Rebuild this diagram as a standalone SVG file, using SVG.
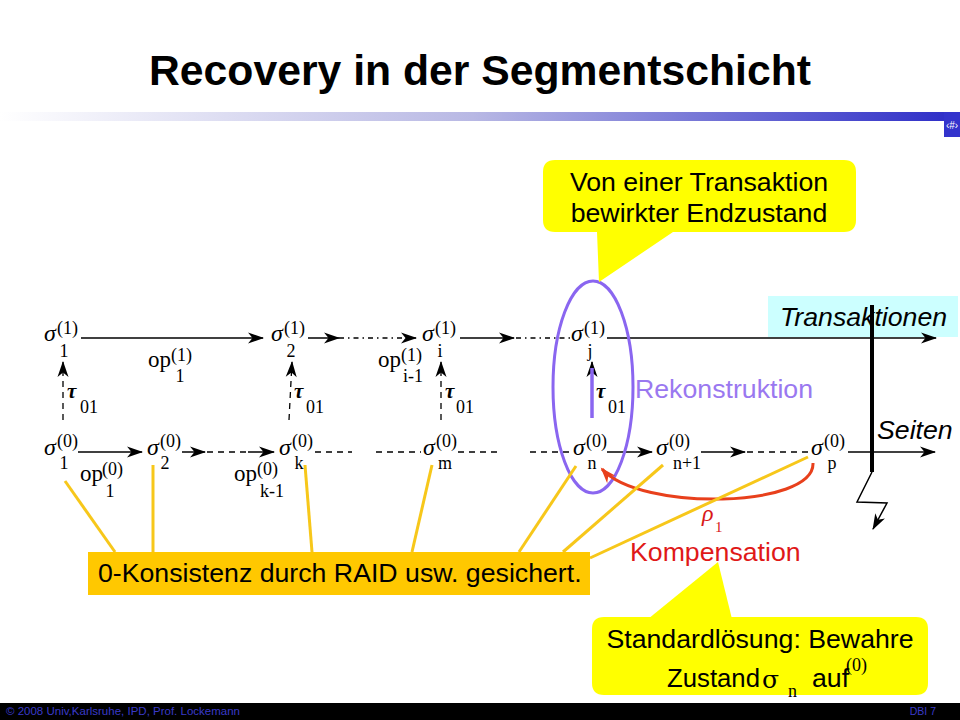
<svg xmlns="http://www.w3.org/2000/svg" width="960" height="720" viewBox="0 0 960 720">
<defs>
<linearGradient id="bar" x1="0" y1="0" x2="1" y2="0">
<stop offset="0" stop-color="#ffffff"/>
<stop offset="0.5" stop-color="#b8b8e4"/>
<stop offset="1" stop-color="#3030c8"/>
</linearGradient>
<marker id="ah" markerUnits="userSpaceOnUse" markerWidth="17" markerHeight="12" refX="15" refY="5.5" orient="auto" overflow="visible">
<path d="M0,0 L16,5.5 L0,11 L4.5,5.5 z" fill="#000"/>
</marker>
<marker id="ahr" markerUnits="userSpaceOnUse" markerWidth="17" markerHeight="12" refX="14" refY="5.5" orient="auto" overflow="visible">
<path d="M0,0 L16,5.5 L0,11 L4.5,5.5 z" fill="#e8401c"/>
</marker>
<style>
.sig{font-family:"Liberation Serif",serif;font-style:italic;font-size:24px;fill:#000}
.sm{font-family:"Liberation Serif",serif;font-size:18px;fill:#000}
.op{font-family:"Liberation Serif",serif;font-size:23px;fill:#000}
.tau{font-family:"Liberation Serif",serif;font-style:italic;font-weight:bold;font-size:21px;fill:#000}
.sans{font-family:"Liberation Sans",Arial,sans-serif;font-size:26.7px;fill:#000}
.ln{stroke:#000;stroke-width:1.5;fill:none}
.dsh{stroke:#000;stroke-width:1.3;fill:none;stroke-dasharray:6,5}
.dd{stroke:#000;stroke-width:1.3;fill:none;stroke-dasharray:5,4,1.5,4}
.yl{stroke:#f7c71a;stroke-width:3;fill:none}
.mid{text-anchor:middle}
</style>
</defs>
<rect width="960" height="720" fill="#fff"/>

<g id="header">
<text x="480" y="85" text-anchor="middle" font-family="Liberation Sans, Arial, sans-serif" font-weight="bold" font-size="42.7">Recovery in der Segmentschicht</text>
<rect x="0" y="112" width="945" height="9" fill="url(#bar)"/>
<rect x="944" y="112" width="16" height="25" fill="#3333cc"/>
<text x="952" y="129" text-anchor="middle" font-family="Liberation Sans, Arial, sans-serif" font-size="10" fill="#fff">‹#›</text>
</g>

<g id="transaktionen-label">
<rect x="768" y="296" width="190" height="41" fill="#ccffff"/>
<text class="sans" x="780" y="326" font-style="italic">Transaktionen</text>
</g>
<g id="seiten-label">
<text class="sans" x="877" y="439" font-style="italic">Seiten</text>
</g>

<g id="connectors">
<!-- top row -->
<path class="ln" d="M81 338 H263" marker-end="url(#ah)"/>
<path class="ln" d="M308 338 H339" marker-end="url(#ah)"/>
<path class="dd" d="M339 338 H416" marker-end="url(#ah)"/>
<path class="ln" d="M460 338 H514" marker-end="url(#ah)"/>
<path class="dd" d="M516 338 H570"/>
<path class="ln" d="M607 338 H936" marker-end="url(#ah)"/>
<!-- bottom row -->
<path class="ln" d="M78 452 H142" marker-end="url(#ah)"/>
<path class="ln" d="M182 452 H205" marker-end="url(#ah)"/>
<path class="dsh" d="M207 452 H248"/>
<path class="ln" d="M248 452 H274" marker-end="url(#ah)"/>
<path class="dsh" d="M315 452 H352"/>
<path class="dsh" d="M376 452 H421"/>
<path class="dsh" d="M458 452 H502"/>
<path class="dsh" d="M530 452 H573"/>
<path class="ln" d="M607 452 H652" marker-end="url(#ah)"/>
<path class="ln" d="M701 452 H745" marker-end="url(#ah)"/>
<path class="dsh" d="M747 452 H808"/>
<path class="ln" d="M848 452 H935" marker-end="url(#ah)"/>
<!-- tau arrows -->
<path class="dsh" d="M63 420 V362" marker-end="url(#ah)"/>
<path class="dsh" d="M289 420 L292 362" marker-end="url(#ah)"/>
<path class="dsh" d="M441 420 V362" marker-end="url(#ah)"/>
<path class="ln" d="M592 418 V362" marker-end="url(#ah)"/>
<path d="M592 418 V368" stroke="#8a66f0" stroke-width="3.5" fill="none"/>
<!-- axis / crash -->
<path d="M872 305 V472" stroke="#000" stroke-width="4" fill="none"/>
<path class="ln" d="M872 472 L857 502 L887 503 L873 529" marker-end="url(#ah)"/>
<!-- reconstruction ellipse -->
<ellipse cx="593" cy="387" rx="40" ry="106" fill="none" stroke="#8a66f0" stroke-width="3"/>
<!-- compensation arc -->
<path d="M813 463 C815 508, 640 512, 602 469" fill="none" stroke="#e8401c" stroke-width="3" marker-end="url(#ahr)"/>
<!-- yellow lines to box -->
<path class="yl" d="M65 481 L115 552"/>
<path class="yl" d="M153 465 V552"/>
<path class="yl" d="M305 465 L312 552"/>
<path class="yl" d="M432 465 L412 552"/>
<path class="yl" d="M576 466 L519 552"/>
<path class="yl" d="M663 465 L563 552"/>
<path class="yl" d="M808 457 L590 558"/>
</g>

<!-- top row nodes -->
<g id="s1-1"><text class="sig" x="44" y="341">σ</text><text class="sm" x="57" y="334">(1)</text><text class="sm mid" x="64" y="357">1</text></g>
<g id="s1-2"><text class="sig" x="271" y="341">σ</text><text class="sm" x="284" y="334">(1)</text><text class="sm mid" x="291" y="357">2</text></g>
<g id="s1-i"><text class="sig" x="422" y="341">σ</text><text class="sm" x="435" y="334">(1)</text><text class="sm mid" x="440" y="357">i</text></g>
<g id="s1-j"><text class="sig" x="571" y="341">σ</text><text class="sm" x="584" y="334">(1)</text><text class="sm mid" x="590" y="357">j</text></g>

<!-- bottom row nodes -->
<g id="s0-1"><text class="sig" x="44" y="455">σ</text><text class="sm" x="57" y="447">(0)</text><text class="sm mid" x="64" y="469">1</text></g>
<g id="s0-2"><text class="sig" x="147" y="455">σ</text><text class="sm" x="160" y="447">(0)</text><text class="sm mid" x="165" y="469">2</text></g>
<g id="s0-k"><text class="sig" x="279" y="455">σ</text><text class="sm" x="292" y="447">(0)</text><text class="sm mid" x="299" y="469">k</text></g>
<g id="s0-m"><text class="sig" x="423" y="455">σ</text><text class="sm" x="436" y="447">(0)</text><text class="sm mid" x="445" y="469">m</text></g>
<g id="s0-n"><text class="sig" x="573" y="455">σ</text><text class="sm" x="586" y="447">(0)</text><text class="sm mid" x="592" y="469">n</text></g>
<g id="s0-n1"><text class="sig" x="656" y="455">σ</text><text class="sm" x="669" y="447">(0)</text><text class="sm mid" x="687" y="469">n+1</text></g>
<g id="s0-p"><text class="sig" x="811" y="455">σ</text><text class="sm" x="824" y="447">(0)</text><text class="sm mid" x="832" y="469">p</text></g>

<!-- operation labels -->
<g id="op1-1"><text class="op" x="148" y="367">op</text><text class="sm" x="171" y="361">(1)</text><text class="sm mid" x="180" y="382">1</text></g>
<g id="op1-i"><text class="op" x="378" y="367">op</text><text class="sm" x="401" y="361">(1)</text><text class="sm" x="403" y="382">i-1</text></g>
<g id="op0-1"><text class="op" x="80" y="481">op</text><text class="sm" x="102" y="475">(0)</text><text class="sm mid" x="110" y="497">1</text></g>
<g id="op0-k"><text class="op" x="234" y="481">op</text><text class="sm" x="257" y="475">(0)</text><text class="sm" x="260" y="497">k-1</text></g>

<!-- tau labels -->
<g id="tau1"><text class="tau" x="67" y="398">τ</text><text class="sm" x="80" y="413">01</text></g>
<g id="tau2"><text class="tau" x="294" y="398">τ</text><text class="sm" x="306" y="413">01</text></g>
<g id="tau3"><text class="tau" x="445" y="398">τ</text><text class="sm" x="456" y="413">01</text></g>
<g id="tau4"><text class="tau" x="596" y="398">τ</text><text class="sm" x="608" y="413">01</text></g>

<g id="rekonstruktion"><text class="sans" x="635" y="398" style="fill:#9a78f0">Rekonstruktion</text></g>
<g id="kompensation">
<text x="702" y="521" font-family="Liberation Serif, serif" font-style="italic" font-size="24" fill="#d81818">ρ</text>
<text x="715" y="532" font-family="Liberation Serif, serif" font-size="15" fill="#d81818">1</text>
<text class="sans" x="630" y="561" style="fill:#e01818">Kompensation</text>
</g>

<g id="callout-top">
<path d="M555 160 H844 Q856 160 856 172 V220 Q856 232 844 232 H673 L599 282 L597 232 H555 Q543 232 543 220 V172 Q543 160 555 160 Z" fill="#ffff00"/>
<text class="sans mid" x="699" y="191">Von einer Transaktion</text>
<text class="sans mid" x="699" y="222">bewirkter Endzustand</text>
</g>

<g id="box-raid">
<rect x="88" y="552" width="502" height="43" fill="#ffc800"/>
<text class="sans" x="98" y="582">0-Konsistenz durch RAID usw. gesichert.</text>
</g>

<g id="callout-bottom">
<path d="M604 617 H916 Q928 617 928 629 V683 Q928 695 916 695 H604 Q592 695 592 683 V629 Q592 617 604 617 Z" fill="#ffff00"/>
<path d="M648 619 L718 562 L732 619 Z" fill="#ffff00"/>
<text class="sans mid" x="760" y="648">Standardlösung: Bewahre</text>
<text class="sans" x="667" y="687" textLength="93" lengthAdjust="spacingAndGlyphs">Zustand</text>
<text x="762" y="688" font-family="DejaVu Serif, serif" font-size="25">σ</text>
<text class="sm" x="788" y="697">n</text>
<text class="sans" x="812" y="687">auf</text>
<text class="sm" x="846" y="671">(0)</text>
</g>

<g id="footer">
<rect x="0" y="703" width="960" height="17" fill="#000"/>
<text x="6" y="715" font-family="Liberation Sans, Arial, sans-serif" font-size="10.5" fill="#3a3ac8" textLength="234" lengthAdjust="spacingAndGlyphs">© 2008 Univ,Karlsruhe, IPD, Prof. Lockemann</text>
<text x="936" y="715" text-anchor="end" font-family="Liberation Sans, Arial, sans-serif" font-size="10.5" fill="#3a3ac8">DBI 7</text>
</g>
</svg>
